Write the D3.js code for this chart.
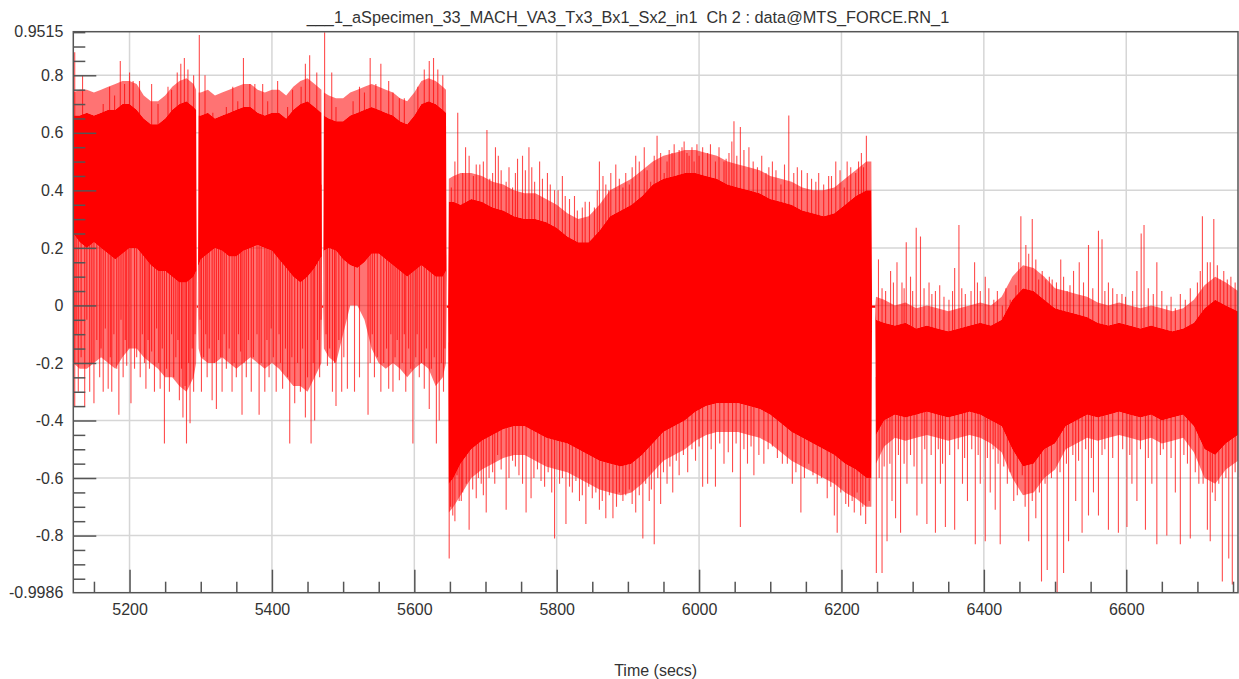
<!DOCTYPE html>
<html><head><meta charset="utf-8">
<script src="https://cdn.jsdelivr.net/npm/d3@7"></script>
<style>
body{margin:0;background:#fff}
svg{display:block}
text{font-family:"Liberation Sans",Arial,sans-serif;fill:#333}
</style>
</head><body>
<svg id="chart" width="1239" height="679"></svg>
<script>
// ---------------- DATA ----------------
const chartTitle = "___1_aSpecimen_33_MACH_VA3_Tx3_Bx1_Sx2_in1  Ch 2 : data@MTS_FORCE.RN_1";
const xTitle = "Time (secs)";
const xDomain = [5121, 6757];
const yDomain = [-0.9986, 0.9515];
const xMajorTicks = [5200, 5400, 5600, 5800, 6000, 6200, 6400, 6600];
const yMajorTicks = [-0.8, -0.6, -0.4, -0.2, 0, 0.2, 0.4, 0.6, 0.8];

// envelope sample times
const coreTime = [5121,5130,5140,5150,5160,5170,5180,5190,5200,5210,5220,5230,5240,5250,5260,5270,5280,5290,5293.5,5294.5,5296,5297,5300,5310,5320,5330,5340,5350,5360,5370,5380,5390,5400,5410,5420,5430,5440,5450,5460,5469.5,5470.5,5472,5473,5480,5490,5500,5510,5520,5530,5540,5550,5560,5570,5580,5590,5600,5610,5620,5630,5640,5644.5,5645.5,5647.5,5648.5,
 5655,5665,5680,5695,5710,5725,5740,5755,5770,5785,5800,5815,5830,5845,5860,5875,5890,5905,5920,5935,5950,5965,5980,5995,6010,6025,6040,6055,6070,6085,6100,6115,6130,6145,6160,6175,6190,6205,6220,6235,6242,6243,6247.5,6248.5,
 6260,6275,6290,6305,6320,6335,6350,6365,6380,6395,6410,6425,6440,6455,6470,6485,6500,6515,6530,6545,6560,6575,6590,6605,6620,6635,6650,6665,6680,6695,6710,6725,6740,6757];
// solid core of the signal: upper / lower edge
const coreHigh = [0.66,0.66,0.67,0.66,0.67,0.68,0.68,0.70,0.70,0.68,0.65,0.63,0.63,0.65,0.68,0.70,0.71,0.69,0.68,0.00,0.00,0.66,0.66,0.67,0.65,0.66,0.67,0.68,0.69,0.69,0.67,0.66,0.67,0.67,0.65,0.68,0.70,0.71,0.69,0.67,0.00,0.00,0.66,0.65,0.64,0.64,0.66,0.67,0.68,0.69,0.68,0.67,0.66,0.64,0.63,0.66,0.70,0.71,0.70,0.68,0.67,0.00,0.00,0.36,
 0.36,0.35,0.37,0.36,0.34,0.33,0.31,0.30,0.30,0.29,0.27,0.24,0.22,0.22,0.26,0.31,0.33,0.35,0.38,0.42,0.44,0.45,0.46,0.46,0.45,0.44,0.42,0.41,0.40,0.39,0.37,0.36,0.35,0.33,0.32,0.31,0.32,0.35,0.38,0.40,0.40,0.00,0.00,-0.05,
 -0.06,-0.07,-0.06,-0.08,-0.07,-0.08,-0.09,-0.08,-0.07,-0.06,-0.07,-0.05,0.02,0.06,0.05,0.02,-0.01,-0.02,-0.03,-0.04,-0.06,-0.07,-0.06,-0.07,-0.08,-0.07,-0.08,-0.09,-0.08,-0.06,-0.01,0.02,0.00,-0.02];
const coreLow = [0.25,0.22,0.20,0.22,0.20,0.18,0.16,0.18,0.20,0.20,0.17,0.14,0.12,0.12,0.10,0.08,0.08,0.10,0.12,-0.008,-0.008,0.14,0.16,0.18,0.20,0.19,0.17,0.17,0.19,0.20,0.21,0.20,0.19,0.16,0.13,0.10,0.08,0.10,0.13,0.17,-0.008,-0.008,0.19,0.20,0.19,0.16,0.14,0.13,0.15,0.18,0.18,0.16,0.14,0.12,0.10,0.12,0.14,0.12,0.10,0.10,0.12,-0.008,-0.008,-0.62,
 -0.60,-0.55,-0.50,-0.47,-0.45,-0.43,-0.42,-0.42,-0.44,-0.46,-0.47,-0.48,-0.50,-0.52,-0.54,-0.55,-0.56,-0.55,-0.52,-0.48,-0.44,-0.42,-0.40,-0.37,-0.35,-0.34,-0.34,-0.34,-0.35,-0.36,-0.38,-0.41,-0.44,-0.46,-0.48,-0.50,-0.52,-0.55,-0.57,-0.60,-0.60,-0.008,-0.008,-0.45,
 -0.40,-0.38,-0.39,-0.38,-0.37,-0.38,-0.39,-0.38,-0.37,-0.38,-0.40,-0.42,-0.50,-0.56,-0.55,-0.50,-0.48,-0.42,-0.40,-0.38,-0.39,-0.38,-0.37,-0.38,-0.39,-0.38,-0.40,-0.39,-0.38,-0.42,-0.50,-0.52,-0.48,-0.45];
// dense fringe of oscillation peaks around the core: upper / lower extent
const fringeHigh = [0.74,0.75,0.75,0.74,0.75,0.76,0.77,0.78,0.78,0.77,0.73,0.71,0.71,0.73,0.76,0.78,0.79,0.77,0.75,0.00,0.00,0.74,0.74,0.75,0.73,0.74,0.75,0.76,0.77,0.77,0.75,0.74,0.75,0.75,0.73,0.76,0.78,0.79,0.77,0.75,0.00,0.00,0.74,0.73,0.72,0.72,0.74,0.75,0.76,0.77,0.76,0.75,0.74,0.72,0.71,0.74,0.78,0.79,0.78,0.76,0.75,0.00,0.00,0.44,
 0.45,0.46,0.46,0.45,0.43,0.42,0.40,0.39,0.39,0.37,0.35,0.32,0.30,0.31,0.35,0.40,0.42,0.44,0.47,0.50,0.52,0.53,0.54,0.54,0.53,0.52,0.50,0.49,0.48,0.47,0.45,0.44,0.43,0.41,0.40,0.40,0.41,0.44,0.47,0.50,0.50,0.00,0.00,0.03,
 0.02,0.00,0.01,-0.01,0.00,-0.01,-0.02,-0.01,0.00,0.01,0.00,0.03,0.10,0.14,0.13,0.10,0.06,0.05,0.04,0.03,0.01,0.00,0.01,0.00,-0.01,0.00,-0.01,-0.02,-0.01,0.02,0.07,0.10,0.08,0.05];
const fringeLow = [-0.20,-0.22,-0.22,-0.20,-0.18,-0.20,-0.22,-0.18,-0.15,-0.15,-0.18,-0.20,-0.22,-0.25,-0.25,-0.28,-0.30,-0.25,-0.20,-0.008,-0.008,-0.15,-0.18,-0.20,-0.20,-0.18,-0.20,-0.22,-0.20,-0.18,-0.20,-0.22,-0.20,-0.22,-0.25,-0.28,-0.28,-0.30,-0.25,-0.20,-0.008,-0.008,-0.15,-0.18,-0.20,-0.10,0.00,0.00,-0.05,-0.15,-0.20,-0.22,-0.20,-0.22,-0.25,-0.22,-0.20,-0.22,-0.28,-0.25,-0.20,-0.008,-0.008,-0.72,
 -0.70,-0.66,-0.60,-0.57,-0.55,-0.53,-0.52,-0.52,-0.54,-0.56,-0.57,-0.58,-0.60,-0.62,-0.64,-0.65,-0.66,-0.65,-0.62,-0.58,-0.54,-0.52,-0.50,-0.47,-0.45,-0.44,-0.44,-0.44,-0.45,-0.46,-0.48,-0.51,-0.54,-0.56,-0.58,-0.60,-0.62,-0.65,-0.67,-0.70,-0.70,-0.008,-0.008,-0.55,
 -0.49,-0.46,-0.47,-0.46,-0.45,-0.46,-0.47,-0.46,-0.45,-0.46,-0.48,-0.51,-0.60,-0.66,-0.65,-0.60,-0.57,-0.50,-0.48,-0.46,-0.47,-0.46,-0.45,-0.46,-0.47,-0.46,-0.48,-0.47,-0.46,-0.51,-0.60,-0.62,-0.57,-0.54];

// isolated excursions above the core: [time, peak value]
const spikesUp = [
 [5123,0.88],[5134,0.80],[5163,0.70],[5172,0.76],[5179,0.73],[5187,0.85],[5193,0.77],[5200,0.81],[5205,0.78],[5214,0.78],[5231,0.77],[5240,0.70],[5254,0.76],[5259,0.75],[5267,0.81],[5272,0.84],[5277,0.86],[5282,0.82],[5290,0.80],[5298,0.94],[5306,0.80],[5317,0.67],[5336,0.69],[5345,0.76],[5352,0.71],[5360,0.86],[5369,0.77],[5376,0.77],[5387,0.77],[5394,0.71],
 [5408,0.78],[5422,0.69],[5429,0.75],[5441,0.76],[5447,0.84],[5453,0.87],[5463,0.81],[5474,0.95],[5484,0.81],[5490,0.69],[5514,0.71],[5523,0.76],[5530,0.74],[5538,0.86],[5546,0.77],[5553,0.84],[5564,0.78],[5570,0.74],[5579,0.72],[5586,0.72],[5605,0.76],[5614,0.82],[5621,0.85],[5627,0.86],[5633,0.82],[5640,0.80],
 [5652,0.41],[5657,0.50],[5661,0.67],[5668,0.46],[5672,0.55],[5677,0.52],[5683,0.45],[5687,0.49],[5692,0.49],[5697,0.50],[5702,0.61],[5706,0.44],[5710,0.46],[5714,0.55],[5718,0.52],[5722,0.47],[5729,0.43],[5733,0.48],[5738,0.41],[5742,0.46],[5745,0.51],[5752,0.52],[5756,0.47],[5761,0.55],[5765,0.48],[5769,0.43],[5776,0.50],[5780,0.44],[5787,0.46],[5791,0.42],[5797,0.40],[5802,0.40],[5808,0.45],[5812,0.38],[5818,0.37],[5825,0.38],[5829,0.33],[5836,0.34],[5840,0.36],[5846,0.36],[5853,0.34],[5857,0.40],[5860,0.50],[5865,0.45],[5869,0.42],[5873,0.40],[5876,0.46],[5883,0.49],[5888,0.44],[5893,0.41],[5897,0.46],[5902,0.42],[5906,0.48],[5911,0.52],[5916,0.50],[5923,0.55],[5927,0.47],[5932,0.43],[5937,0.52],[5941,0.59],
 [5946,0.53],[5951,0.46],[5955,0.50],[5958,0.54],[5962,0.53],[5965,0.56],[5972,0.54],[5976,0.55],[5979,0.57],[5983,0.53],[5986,0.52],[5990,0.55],[5993,0.50],[5997,0.56],[6000,0.52],[6005,0.55],[6012,0.53],[6016,0.56],[6023,0.50],[6028,0.55],[6035,0.50],[6038,0.51],[6042,0.53],[6046,0.57],[6049,0.64],[6053,0.52],[6058,0.62],[6063,0.54],[6070,0.55],[6076,0.50],[6082,0.48],[6088,0.52],[6094,0.46],[6098,0.48],[6103,0.50],[6108,0.47],[6115,0.42],[6120,0.49],[6126,0.66],[6133,0.46],[6138,0.48],[6144,0.47],[6152,0.46],[6158,0.44],[6164,0.43],[6168,0.46],[6175,0.42],[6182,0.45],[6186,0.45],[6192,0.50],[6198,0.47],[6204,0.41],[6208,0.50],[6213,0.48],[6220,0.46],[6224,0.50],[6228,0.53],[6231,0.48],[6235,0.59],[6239,0.38],
 [6252,0.16],[6257,0.06],[6262,0.05],[6269,0.12],[6273,0.08],[6278,0.15],[6285,0.08],[6288,0.06],[6291,0.22],[6297,0.10],[6300,0.05],[6305,0.27],[6311,0.24],[6316,0.06],[6323,0.08],[6327,0.04],[6332,0.05],[6338,0.07],[6344,0.03],[6351,0.02],[6356,0.05],[6359,0.13],[6365,0.28],[6369,0.06],[6374,0.04],[6382,0.05],[6387,0.15],[6391,0.08],[6395,0.05],[6402,0.10],[6407,0.06],[6414,0.02],[6419,0.05],[6426,0.00],[6431,0.06],[6437,0.02],[6445,0.07],[6449,0.15],[6452,0.31],[6459,0.21],[6463,0.18],[6468,0.30],[6473,0.16],[6477,0.09],[6482,0.12],[6487,0.09],
 [6492,0.10],[6496,0.09],[6502,0.08],[6508,0.16],[6512,0.10],[6517,0.05],[6521,0.07],[6526,0.12],[6534,0.15],[6540,0.08],[6547,0.21],[6553,0.06],[6561,0.26],[6566,0.23],[6570,0.05],[6575,0.08],[6581,0.06],[6587,0.04],[6594,0.04],[6599,0.03],[6609,0.05],[6615,0.12],[6621,0.25],[6625,0.28],[6631,0.06],[6638,0.04],[6643,0.15],[6650,0.05],[6657,0.00],[6663,0.03],[6669,-0.01],[6676,0.04],[6683,0.02],[6690,0.06],[6700,0.08],[6704,0.12],[6707,0.31],[6714,0.15],[6718,0.15],[6723,0.30],[6728,0.14],[6732,0.09],[6737,0.12],[6742,0.09],[6747,0.10],[6753,0.08]
];

// isolated excursions below the core: [time, trough value]
const spikesDown = [
 [5123,-0.35],[5125,-0.10],[5128,-0.30],[5132,-0.18],[5137,-0.35],[5140,-0.05],[5144,-0.30],[5147,-0.20],[5150,-0.34],[5154,-0.12],[5158,-0.25],[5160,-0.15],[5163,-0.30],[5166,-0.08],[5170,-0.29],[5173,-0.18],[5175,-0.30],[5178,-0.10],[5182,-0.22],[5185,-0.38],[5188,-0.05],[5191,-0.25],[5194,-0.12],[5196,-0.21],[5199,-0.15],[5202,-0.34],[5207,-0.22],[5210,-0.18],[5215,-0.25],[5218,-0.10],[5221,-0.20],[5223,-0.29],[5226,-0.12],[5228,-0.22],[5231,-0.16],[5235,-0.30],[5238,-0.08],[5241,-0.20],[5243,-0.29],[5246,-0.15],[5249,-0.48],[5252,-0.22],[5256,-0.30],[5259,-0.10],[5262,-0.25],[5265,-0.18],[5268,-0.12],[5270,-0.33],[5273,-0.22],[5275,-0.39],[5278,-0.28],[5280,-0.48],[5283,-0.20],[5285,-0.41],[5288,-0.15],[5290,-0.30],[5292,-0.10],
 [5299,-0.05],[5301,-0.30],[5304,-0.18],[5307,-0.10],[5309,-0.25],[5312,-0.15],[5316,-0.33],[5319,-0.20],[5322,-0.36],[5325,-0.12],[5328,-0.18],[5330,-0.30],[5333,-0.10],[5336,-0.22],[5340,-0.15],[5344,-0.30],[5347,-0.20],[5350,-0.25],[5353,-0.10],[5356,-0.16],[5358,-0.38],[5361,-0.20],[5364,-0.25],[5367,-0.12],[5371,-0.30],[5374,-0.18],[5379,-0.10],[5382,-0.38],[5385,-0.20],[5390,-0.30],[5393,-0.12],[5396,-0.25],[5399,-0.08],[5402,-0.18],[5406,-0.30],[5410,-0.10],[5412,-0.20],[5415,-0.29],[5419,-0.15],[5422,-0.25],[5425,-0.48],[5428,-0.18],[5432,-0.34],[5436,-0.20],[5440,-0.30],[5443,-0.15],[5447,-0.39],[5450,-0.25],[5455,-0.48],[5458,-0.20],[5460,-0.40],[5464,-0.12],[5467,-0.25],[5469,-0.05],
 [5476,-0.10],[5478,-0.21],[5481,-0.15],[5485,-0.30],[5488,-0.20],[5490,-0.35],[5494,-0.12],[5498,-0.30],[5501,-0.18],[5506,-0.29],[5516,-0.30],[5523,-0.25],[5535,-0.38],[5538,-0.20],[5541,-0.10],[5544,-0.25],[5548,-0.18],[5553,-0.30],[5557,-0.20],[5561,-0.15],[5564,-0.29],[5567,-0.10],[5570,-0.30],[5573,-0.18],[5576,-0.12],[5579,-0.26],[5583,-0.20],[5586,-0.10],[5588,-0.30],[5592,-0.15],[5595,-0.22],[5598,-0.48],[5602,-0.18],[5604,-0.10],[5607,-0.25],[5610,-0.20],[5614,-0.29],[5617,-0.15],[5621,-0.36],[5624,-0.22],[5628,-0.18],[5631,-0.48],[5635,-0.40],[5638,-0.20],[5641,-0.30],[5643,-0.15],
 [5649,-0.88],[5651,-0.70],[5654,-0.73],[5657,-0.75],[5660,-0.59],[5663,-0.68],[5666,-0.68],[5668,-0.65],[5673,-0.62],[5677,-0.78],[5682,-0.64],[5687,-0.67],[5690,-0.60],[5694,-0.62],[5697,-0.66],[5701,-0.72],[5705,-0.60],[5710,-0.58],[5713,-0.62],[5717,-0.52],[5722,-0.57],[5729,-0.71],[5733,-0.60],[5738,-0.54],[5742,-0.56],[5747,-0.59],[5752,-0.62],[5757,-0.72],[5764,-0.67],[5768,-0.60],[5773,-0.57],[5778,-0.61],[5783,-0.63],[5788,-0.58],[5793,-0.65],[5797,-0.81],[5804,-0.62],[5808,-0.60],[5813,-0.76],[5818,-0.63],[5822,-0.65],[5827,-0.61],[5832,-0.68],[5836,-0.66],[5841,-0.76],[5845,-0.63],[5850,-0.67],[5855,-0.65],[5860,-0.71],[5864,-0.68],[5869,-0.74],[5874,-0.66],[5879,-0.74],[5884,-0.70],[5888,-0.65],[5893,-0.68],[5897,-0.66],[5902,-0.64],[5906,-0.69],[5911,-0.72],[5916,-0.66],[5921,-0.81],[5925,-0.62],[5930,-0.68],[5933,-0.64],[5937,-0.83],
 [5942,-0.60],[5946,-0.69],[5950,-0.58],[5955,-0.62],[5959,-0.56],[5963,-0.65],[5968,-0.54],[5972,-0.59],[5978,-0.52],[5984,-0.58],[5990,-0.50],[5995,-0.54],[6000,-0.49],[6005,-0.63],[6012,-0.62],[6017,-0.50],[6023,-0.63],[6029,-0.48],[6035,-0.55],[6041,-0.51],[6047,-0.58],[6052,-0.48],[6058,-0.77],[6063,-0.50],[6068,-0.55],[6073,-0.49],[6077,-0.59],[6084,-0.52],[6091,-0.55],[6097,-0.50],[6103,-0.49],[6110,-0.53],[6117,-0.55],[6124,-0.55],[6131,-0.62],[6136,-0.58],[6143,-0.72],[6148,-0.60],[6154,-0.55],[6160,-0.59],[6166,-0.62],[6172,-0.60],[6180,-0.67],[6185,-0.63],[6190,-0.73],[6194,-0.79],[6199,-0.65],[6206,-0.69],[6210,-0.70],[6215,-0.68],[6218,-0.72],[6222,-0.65],[6227,-0.73],[6230,-0.70],[6234,-0.76],[6239,-0.68],
 [6249,-0.93],[6253,-0.60],[6257,-0.93],[6260,-0.56],[6264,-0.82],[6268,-0.55],[6271,-0.68],[6276,-0.74],[6280,-0.52],[6283,-0.79],[6288,-0.55],[6292,-0.62],[6297,-0.52],[6302,-0.56],[6306,-0.73],[6313,-0.62],[6317,-0.50],[6320,-0.76],[6326,-0.52],[6332,-0.79],[6336,-0.50],[6339,-0.62],[6342,-0.55],[6346,-0.77],[6352,-0.52],[6359,-0.78],[6364,-0.50],[6370,-0.62],[6373,-0.53],[6377,-0.68],[6383,-0.50],[6388,-0.83],[6392,-0.52],[6395,-0.62],[6402,-0.82],[6405,-0.53],[6409,-0.65],[6413,-0.50],[6416,-0.71],[6420,-0.55],[6423,-0.83],[6428,-0.56],[6433,-0.62],[6437,-0.58],[6442,-0.68],[6447,-0.66],[6454,-0.59],[6458,-0.70],[6463,-0.82],[6468,-0.68],[6473,-0.74],[6478,-0.65],[6481,-0.96],[6486,-0.62],[6489,-0.92],
 [6495,-0.60],[6503,-1.00],[6507,-0.58],[6512,-0.93],[6516,-0.55],[6519,-0.82],[6525,-0.52],[6529,-0.68],[6533,-0.54],[6538,-0.79],[6543,-0.50],[6547,-0.73],[6551,-0.53],[6554,-0.65],[6561,-0.73],[6566,-0.52],[6570,-0.50],[6575,-0.78],[6581,-0.53],[6589,-0.79],[6595,-0.50],[6601,-0.77],[6605,-0.52],[6608,-0.62],[6615,-0.68],[6620,-0.50],[6627,-0.78],[6631,-0.53],[6636,-0.62],[6643,-0.83],[6648,-0.52],[6652,-0.50],[6657,-0.80],[6663,-0.53],[6669,-0.65],[6676,-0.83],[6681,-0.52],[6686,-0.55],[6690,-0.81],[6697,-0.58],[6702,-0.62],[6708,-0.62],[6714,-0.78],[6718,-0.82],[6721,-0.65],[6725,-0.68],[6730,-0.62],[6735,-0.96],[6740,-0.60],[6744,-0.88],[6749,-0.97],[6753,-0.58]
];

// ---------------- LAYOUT ----------------
const plot = {left: 73.3, right: 1238, top: 31.7, bottom: 592.7};
const svg = d3.select("#chart");
const x = d3.scaleLinear().domain(xDomain).range([plot.left, plot.right]);
const y = d3.scaleLinear().domain(yDomain).range([plot.bottom, plot.top]);
const fmt = d => String(Math.round(d * 10000) / 10000);

svg.append("defs").append("clipPath").attr("id", "clip")
  .append("rect").attr("x", plot.left).attr("y", plot.top)
  .attr("width", plot.right - plot.left).attr("height", plot.bottom - plot.top);

// grid
const grid = svg.append("g").attr("stroke", "#d6d6d6").attr("stroke-width", 1.5);
grid.selectAll(".gx").data(xMajorTicks).join("line")
  .attr("x1", d => x(d)).attr("x2", d => x(d)).attr("y1", plot.top).attr("y2", plot.bottom);
grid.selectAll(".gy").data(yMajorTicks).join("line")
  .attr("y1", d => y(d)).attr("y2", d => y(d)).attr("x1", plot.left).attr("x2", plot.right);

// signal
const env = coreTime.map((t, i) => ({t, hi: coreHigh[i], lo: coreLow[i], fhi: fringeHigh[i], flo: fringeLow[i]}));
function coreMid(t) {
  const i = Math.max(1, Math.min(coreTime.length - 1, d3.bisectLeft(coreTime, t)));
  const a = env[i - 1], b = env[i];
  const f = (t - a.t) / (b.t - a.t);
  return ((a.hi + a.lo) / 2) * (1 - f) + ((b.hi + b.lo) / 2) * f;
}
const sig = svg.append("g").attr("clip-path", "url(#clip)");
sig.append("path").datum(env)
  .attr("fill", "#ff0000").attr("fill-opacity", 0.55)
  .attr("d", d3.area().x(d => x(d.t)).y0(d => y(d.hi)).y1(d => y(d.fhi)));
sig.append("path").datum(env)
  .attr("fill", "#ff0000").attr("fill-opacity", 0.55)
  .attr("d", d3.area().x(d => x(d.t)).y0(d => y(d.flo)).y1(d => y(d.lo)));
sig.append("g").attr("stroke", "#ff0000").attr("stroke-width", 1.1).attr("stroke-opacity", 0.7)
  .selectAll("line").data(spikesUp.concat(spikesDown)).join("line")
  .attr("x1", d => x(d[0])).attr("x2", d => x(d[0]))
  .attr("y1", d => y(d[1])).attr("y2", d => y(coreMid(d[0])));
sig.append("path").datum(env)
  .attr("fill", "#ff0000")
  .attr("d", d3.area().x(d => x(d.t)).y0(d => y(d.lo)).y1(d => y(d.hi)));

// axes
const minorY = d3.range(-19, 20).map(k => k * 0.05).filter(v => v > yDomain[0] && v < yDomain[1] && Math.abs(v * 5 - Math.round(v * 5)) > 1e-6);
const minorX = d3.range(5150, 6757, 50).filter(v => v % 200 !== 0);

const axY = svg.append("g").attr("transform", `translate(${plot.left},0)`);
axY.call(d3.axisLeft(y).tickValues(yMajorTicks).tickSizeInner(-23).tickSizeOuter(0).tickPadding(10).tickFormat(fmt));
axY.append("g").call(d3.axisLeft(y).tickValues(minorY).tickSizeInner(-12).tickSizeOuter(0).tickFormat(""));
axY.append("g").call(d3.axisLeft(y).tickValues(yDomain).tickSizeInner(0).tickSizeOuter(0).tickPadding(10).tickFormat(d3.format(".4f")));

const axX = svg.append("g").attr("transform", `translate(0,${plot.bottom})`);
axX.call(d3.axisBottom(x).tickValues(xMajorTicks).tickSizeInner(-23).tickSizeOuter(0).tickPadding(11).tickFormat(fmt));
axX.append("g").call(d3.axisBottom(x).tickValues(minorX).tickSizeInner(-11).tickSizeOuter(0).tickFormat(""));

svg.selectAll(".domain").remove();
svg.selectAll(".tick line").attr("stroke", "#555").attr("stroke-width", 1.5);
svg.selectAll(".tick text").attr("font-size", 16).attr("fill", "#333")
  .attr("font-family", '"Liberation Sans",Arial,sans-serif')
  .text(function(){ return this.textContent.replace("\u2212", "-"); });

// frame
svg.append("rect").attr("x", plot.left).attr("y", plot.top)
  .attr("width", plot.right - plot.left).attr("height", plot.bottom - plot.top)
  .attr("fill", "none").attr("stroke", "#555").attr("stroke-width", 1.5);

// titles
const t1 = svg.append("text").attr("x", 628).attr("y", 23).attr("text-anchor", "middle")
  .attr("font-size", 16).style("white-space", "pre").attr("xml:space", "preserve").text(chartTitle);
const w1 = t1.node().getComputedTextLength();
t1.attr("font-size", 16 * 643 / w1);
svg.append("text").attr("x", (plot.left + plot.right) / 2).attr("y", 676).attr("text-anchor", "middle")
  .attr("font-size", 16).text(xTitle);
</script>
</body></html>
